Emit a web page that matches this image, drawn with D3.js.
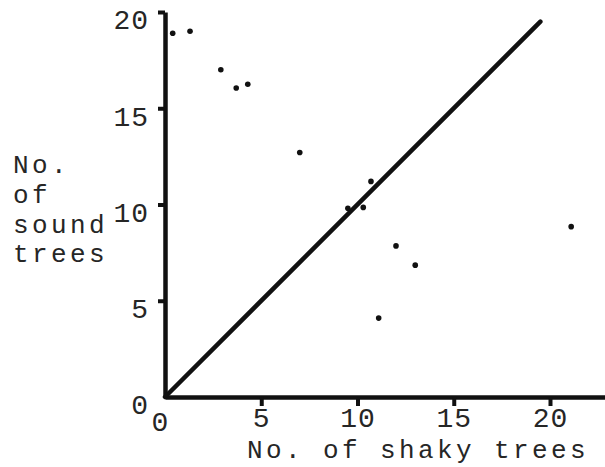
<!DOCTYPE html>
<html>
<head>
<meta charset="utf-8">
<script src="https://cdn.jsdelivr.net/npm/d3@7"></script>
<style>
  body { margin: 0; background: #fff; }
  svg text { font-family: "Liberation Mono", "DejaVu Sans Mono", monospace; fill: #262626; }
</style>
</head>
<body>
<svg id="chart" width="605" height="467"></svg>
<script>
// Points
const shakyTrees = [0.4, 1.3, 2.9, 3.7, 4.3, 7.0, 9.5, 10.3, 10.7, 12.0, 13.0, 11.1, 21.1];
const soundTrees = [18.9, 19.0, 17.0, 16.05, 16.25, 12.7, 9.8, 9.85, 11.2, 7.85, 6.85, 4.1, 8.85];

// Line of equality
const lineX = [0, 19.5];
const lineY = [0, 19.5];

const tickValues = [0, 5, 10, 15, 20];
const yLabelLines = ["No.", "of", "sound", "trees"];
const xLabel = "No. of shaky trees";

const W = 605, H = 467;
const svg = d3.select("#chart");

// same scale on both axes (~19.25px per tree)
const x = d3.scaleLinear().domain([0, 20]).range([165, 550]);
const y = d3.scaleLinear().domain([0, 20]).range([397, 12]);

// x axis runs out to the right edge
const xAxisScale = x.copy().domain([0, x.invert(W)]).range([x(0), W]);

const xAxis = svg.append("g")
    .attr("transform", `translate(0,${y(0)})`)
    .call(d3.axisBottom(xAxisScale).tickValues(tickValues).tickSize(9).tickSizeOuter(0).tickPadding(1));

const yAxis = svg.append("g")
    .attr("transform", `translate(${x(0)},0)`)
    .call(d3.axisLeft(y).tickValues(tickValues).tickSize(7).tickSizeOuter(0).tickPadding(9));

[xAxis, yAxis].forEach(g => {
    g.select(".domain").attr("stroke", "#111").attr("stroke-width", 4.5);
    g.selectAll(".tick line").attr("stroke", "#111").attr("stroke-width", 4)
        .filter(d => d === 0).remove();
    g.selectAll(".tick text")
        .style("font-family", '"Liberation Mono", "DejaVu Sans Mono", monospace')
        .attr("font-size", 28)
        .attr("letter-spacing", 1)
        .attr("fill", "#262626");
});

yAxis.selectAll(".tick text").attr("dy", "0.6em");
xAxis.selectAll(".tick text").filter(d => d === 0).attr("x", -5).attr("dy", "0.85em");

// axis titles (typewriter spacing, ~19px per character)
svg.append("text")
    .attr("x", 247)
    .attr("y", 458)
    .attr("font-size", 26)
    .attr("letter-spacing", 3.4)
    .text(xLabel);

const yLabelBaselines = [173, 203, 233, 262];
svg.append("g").selectAll("text")
    .data(yLabelLines)
    .enter()
    .append("text")
    .attr("x", 13)
    .attr("y", (d, i) => yLabelBaselines[i])
    .attr("font-size", 26)
    .attr("letter-spacing", 3.4)
    .text(d => d);

// diagonal line
svg.append("line")
    .attr("x1", x(lineX[0])).attr("y1", y(lineY[0]))
    .attr("x2", x(lineX[1])).attr("y2", y(lineY[1]))
    .attr("stroke", "#111")
    .attr("stroke-width", 4.5)
    .attr("stroke-linecap", "round");

// points
svg.selectAll(".dot")
    .data(shakyTrees.map((s, i) => ({shaky: s, sound: soundTrees[i]})))
    .enter()
    .append("circle")
    .attr("class", "dot")
    .attr("cx", d => x(d.shaky))
    .attr("cy", d => y(d.sound))
    .attr("r", 2.8)
    .attr("fill", "#111");
</script>
</body>
</html>
